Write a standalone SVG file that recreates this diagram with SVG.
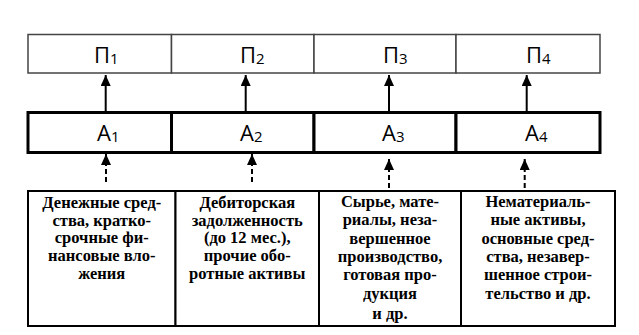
<svg xmlns="http://www.w3.org/2000/svg" width="639" height="335" viewBox="0 0 639 335">
<defs>
<marker id="ah" markerWidth="11" markerHeight="10" refX="11" refY="5" orient="auto" markerUnits="userSpaceOnUse" viewBox="0 0 11 10">
<path d="M0,0 L11,5 L0,10 Z" fill="#000"/>
</marker>
<style>
.p{fill:#fff;stroke:#444;stroke-width:1.5}
.a{fill:#fff;stroke:#000;stroke-width:3}
.b{fill:#fff;stroke:#000;stroke-width:2}
.lab{font-family:"Open Sans","Liberation Sans",sans-serif;font-size:22px;fill:#000}
.sub{font-size:15px}
.t{font-family:"Liberation Serif","DejaVu Serif",serif;font-weight:bold;font-size:16.5px;fill:#000;text-anchor:middle}
.sl{stroke:#000;stroke-width:2;fill:none}
.dl{stroke:#000;stroke-width:2;fill:none;stroke-dasharray:5 3}
</style>
</defs>
<rect width="639" height="335" fill="#fff"/>
<g id="P1"><rect class="p" x="28" y="34.5" width="143.5" height="38.5"/><text class="lab" x="94" y="63">П<tspan class="sub" dy="1">1</tspan></text></g>
<g id="P2"><rect class="p" x="171.5" y="34.5" width="142.5" height="38.5"/><text class="lab" x="240" y="63">П<tspan class="sub" dy="1">2</tspan></text></g>
<g id="P3"><rect class="p" x="314" y="34.5" width="142" height="38.5"/><text class="lab" x="383" y="63">П<tspan class="sub" dy="1">3</tspan></text></g>
<g id="P4"><rect class="p" x="456" y="34.5" width="144" height="38.5"/><text class="lab" x="526" y="63">П<tspan class="sub" dy="1">4</tspan></text></g>
<g id="A1"><rect class="a" x="28" y="112.5" width="143.5" height="40"/><text class="lab" x="97" y="141">A<tspan class="sub" dy="1">1</tspan></text></g>
<g id="A2"><rect class="a" x="171.5" y="112.5" width="142.5" height="40"/><text class="lab" x="240" y="141">A<tspan class="sub" dy="1">2</tspan></text></g>
<g id="A3"><rect class="a" x="314" y="112.5" width="142" height="40"/><text class="lab" x="382" y="141">A<tspan class="sub" dy="1">3</tspan></text></g>
<g id="A4"><rect class="a" x="456" y="112.5" width="144" height="40"/><text class="lab" x="525" y="141">A<tspan class="sub" dy="1">4</tspan></text></g>
<g id="B1"><rect class="b" x="28" y="191" width="147.5" height="135"/>
<text class="t"><tspan x="101.75" y="208">Денежные сред-</tspan><tspan x="101.75" y="225.7">ства, кратко-</tspan><tspan x="101.75" y="243.4">срочные фи-</tspan><tspan x="101.75" y="261.1">нансовые вло-</tspan><tspan x="101.75" y="278.8">жения</tspan></text></g>
<g id="B2"><rect class="b" x="175.5" y="191" width="143.5" height="135"/>
<text class="t"><tspan x="247.25" y="208">Дебиторская</tspan><tspan x="247.25" y="225.7">задолженность</tspan><tspan x="247.25" y="243.4">(до 12 мес.),</tspan><tspan x="247.25" y="261.1">прочие обо-</tspan><tspan x="247.25" y="278.8">ротные активы</tspan></text></g>
<g id="B3"><rect class="b" x="319" y="191" width="142" height="135"/>
<text class="t"><tspan x="390" y="207">Сырье, мате-</tspan><tspan x="390" y="225.3">риалы, неза-</tspan><tspan x="390" y="243.6">вершенное</tspan><tspan x="390" y="261.9">производство,</tspan><tspan x="390" y="280.2">готовая про-</tspan><tspan x="390" y="298.5">дукция</tspan><tspan x="390" y="319">и др.</tspan></text></g>
<g id="B4"><rect class="b" x="461" y="191" width="154" height="135"/>
<text class="t"><tspan x="538" y="207">Нематериаль-</tspan><tspan x="538" y="225.3">ные активы,</tspan><tspan x="538" y="243.6">основные сред-</tspan><tspan x="538" y="261.9">ства, незавер-</tspan><tspan x="538" y="280.2">шенное строи-</tspan><tspan x="538" y="298.5">тельство и др.</tspan></text></g>
<g id="connectors">
<line class="sl" x1="105.7" y1="112" x2="105.7" y2="75" marker-end="url(#ah)"/>
<line class="sl" x1="245.7" y1="112" x2="245.7" y2="75" marker-end="url(#ah)"/>
<line class="sl" x1="389" y1="112" x2="389" y2="75" marker-end="url(#ah)"/>
<line class="sl" x1="526.7" y1="112" x2="526.7" y2="75" marker-end="url(#ah)"/>
<line class="dl" x1="106" y1="182" x2="106" y2="154" marker-end="url(#ah)"/>
<line class="dl" x1="252" y1="182" x2="252" y2="154" marker-end="url(#ah)"/>
<line class="dl" x1="389" y1="188" x2="389" y2="159" marker-end="url(#ah)"/>
<line class="dl" x1="524.7" y1="188" x2="524.7" y2="159" marker-end="url(#ah)"/>
</g>
</svg>
